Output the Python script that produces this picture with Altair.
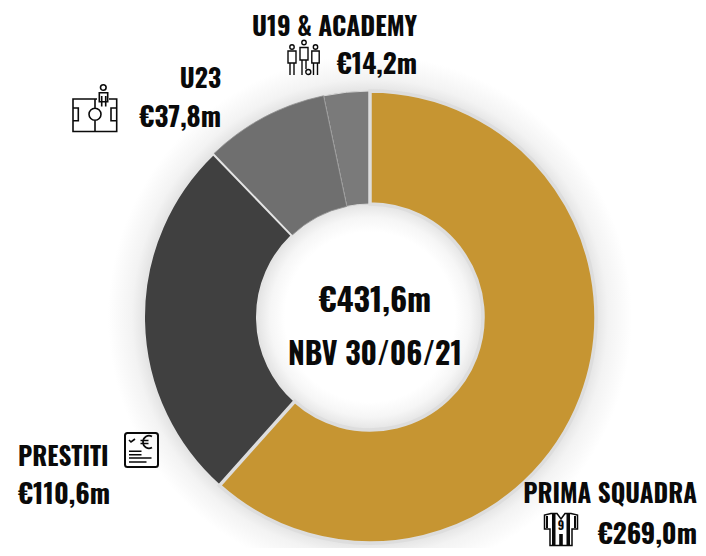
import altair as alt
import pandas as pd

# Slice shares as drawn in the picture (percent of the ring)
categories = ["PRIMA SQUADRA", "PRESTITI", "U23", "U19 & ACADEMY"]
shares = [61.6, 26.2, 8.9, 3.3]
colors = ["#C69532", "#404040", "#6F6F6F", "#7A7A7A"]
value_labels = ["€269,0m", "€110,6m", "€37,8m", "€14,2m"]
center_texts = ["€431,6m", "NBV 30/06/21"]

FONT = "Oswald"
OX, OY = 8, 8
CX, CY = 370 - OX, 317 - OY
R_OUT, R_IN = 226, 113


def single(t=""):
    return pd.DataFrame({"t": [t]})


def label(text, px, py, align, size=27):
    return alt.Chart(single(text)).mark_text(
        font=FONT, fontWeight="bold", fontSize=size, align=align, baseline="alphabetic", color="#0a0a0a"
    ).encode(text="t:N", x=alt.value(px - OX), y=alt.value(py - OY))


def rect(x0, y0, x1, y1):
    return f"M{x0} {y0}L{x1} {y0}L{x1} {y1}L{x0} {y1}Z"


def circle(cx, cy, r):
    return f"M{cx-r} {cy}A{r} {r} 0 1 1 {cx+r} {cy}A{r} {r} 0 1 1 {cx-r} {cy}Z"


def line(x0, y0, x1, y1):
    return f"M{x0} {y0}L{x1} {y1}"


def icon(path, px, py, width=1.5, filled=False, color="#0a0a0a"):
    if filled:
        mark = alt.Chart(single()).mark_point(shape=path, size=4, filled=True, fill=color, opacity=1, strokeWidth=0)
    else:
        mark = alt.Chart(single()).mark_point(shape=path, size=4, filled=False, stroke=color, strokeWidth=width, opacity=1)
    return mark.encode(x=alt.value(px - OX), y=alt.value(py - OY))


def person(cx, head_y, top, bottom, foot, half=4, leg=2):
    return (
        circle(cx, head_y, 2.2)
        + rect(cx - half, top, cx + half, bottom)
        + line(cx - leg, bottom, cx - leg, foot)
        + line(cx + leg, bottom, cx + leg, foot)
    )


players = (
    person(-12, -11, -7, 5, 17)
    + circle(0, -15.5, 2.2)
    + rect(-4, -10.5, 4, 2)
    + line(-2, 2, -2, 17)
    + line(2, 2, 2, 11)
    + circle(4.3, 14, 2.5)
    + person(11.5, -11, -7, 5, 17, half=3.7)
)

pitch = (
    "M2 -11L-22 -11L-22 21.5L21.7 21.5L21.7 -11L14 -11"
    + line(0, -11, 0, -2)
    + circle(0, 4.3, 6)
    + line(0, 10, 0, 21.5)
    + "M-22 -2L-16.7 -2L-16.7 10.7L-22 10.7"
    + "M21.7 -2L16 -2L16 10.7L21.7 10.7"
    + circle(8.3, -22.5, 2.8)
    + "M4.3 -7.5L4.3 -17.3L12.7 -17.3L12.7 -7.5"
    + line(6.7, -14, 6.7, -3.5)
    + line(10.7, -14, 10.7, -3.5)
    + line(4.3, -8.3, 12.7, -8.3)
)

doc_frame = (
    "M-14 -17L14 -17Q16.5 -17 16.5 -14.5L16.5 14.5Q16.5 17 14 17L-14 17Q-16.5 17 -16.5 14.5L-16.5 -14.5Q-16.5 -17 -14 -17Z"
)
doc_lines = (
    "M-12.5 -10L-10.5 -8L-6.5 -11"
    + line(-12.5, 1.3, 0, 1.3)
    + line(-12.5, 4.7, 0, 4.7)
    + line(-12.5, 8, 10, 8)
    + line(-12.5, 12, 5, 12)
)
doc_euro = "M10.5 -13.5C6.5 -16 1.5 -13 1.5 -8C1.5 -3 6.5 0 10.5 -2.5" + line(-1, -9.5, 7, -9.5) + line(-1, -6.5, 7, -6.5)

shirt_outline = "M-10 -15.5L-4 -15.5L0 -10L4 -15.5L10 -15.5L16.5 -14L16.5 0L11 0L11 16.5L-11 16.5L-11 0L-16.5 0L-16.5 -14Z"
shirt_stripes = (
    rect(-9, -15, -5.5, 16)
    + rect(5.5, -15, 9, 16)
    + rect(-15, -13, -13, -1)
    + rect(13, -13, 15, -1)
    + rect(-1.8, 5, 1.8, 16)
)

ring_df = pd.DataFrame(
    {
        "category": categories,
        "share": shares,
        "order": list(range(len(categories))),
        "color": colors,
        "edge": ["#DDDDDD", "#E4E4E4", "#909090", "#D8D8D8"],
        "edge_w": [3.5, 2.0, 0.8, 1.0],
    }
)

GLOW_R = 262
glow = alt.Chart(single()).mark_arc(
    innerRadius=0,
    outerRadius=GLOW_R,
    theta=0,
    theta2=6.2832,
    fill=alt.RadialGradient(
        gradient="radial",
        x1=0.5, y1=0.5, r1=0, x2=0.5, y2=0.5, r2=0.5,
        stops=[
            alt.GradientStop(offset=0, color="#FFFFFF"),
            alt.GradientStop(offset=85 / GLOW_R, color="#FFFFFF"),
            alt.GradientStop(offset=100 / GLOW_R, color="#F6F6F6"),
            alt.GradientStop(offset=113 / GLOW_R, color="#E4E4E4"),
            alt.GradientStop(offset=226 / GLOW_R, color="#E4E4E4"),
            alt.GradientStop(offset=238 / GLOW_R, color="#F3F3F3"),
            alt.GradientStop(offset=1, color="#FFFFFF"),
        ],
    ),
).encode(x=alt.value(CX), y=alt.value(CY))

base = alt.Chart(ring_df).transform_window(
    cum="sum(share)", sort=[alt.SortField("order")], frame=[None, 0]
).transform_calculate(
    end="datum.cum / 100 * 2 * PI", start="(datum.cum - datum.share) / 100 * 2 * PI"
)

ring = base.mark_arc(innerRadius=R_IN, outerRadius=R_OUT).encode(
    theta=alt.Theta("start:Q", scale=None),
    theta2=alt.Theta2("end:Q"),
    x=alt.value(CX),
    y=alt.value(CY),
    fill=alt.Fill("color:N", scale=None),
    stroke=alt.Stroke("edge:N", scale=None),
    strokeWidth=alt.StrokeWidth("edge_w:Q", scale=None),
    order=alt.Order("order:Q", sort="descending"),
)

layers = [
    glow,
    ring,
    label(center_texts[0], 375, 312, "center", 32),
    label(center_texts[1], 375, 365, "center", 30),
    label("U19 & ACADEMY", 417, 36, "right", 25.5),
    label(value_labels[3], 417, 74, "right"),
    label("U23", 221, 88, "right", 25.5),
    label(value_labels[2], 221, 127, "right"),
    label("PRESTITI", 18, 466, "left", 25),
    label(value_labels[1], 18, 504, "left"),
    label("PRIMA SQUADRA", 697, 503, "right", 25),
    label(value_labels[0], 697, 544, "right"),
    icon(players, 304, 58, 1.4),
    icon(pitch, 95, 110, 1.6),
    icon(doc_frame, 141.5, 450, 2),
    icon(doc_lines, 141.5, 450, 1.6),
    icon(doc_euro, 141.5, 450, 1.7),
    icon(shirt_stripes, 561, 529, filled=True),
    icon(shirt_outline, 561, 529, 1.5),
    alt.Chart(single("9")).mark_text(
        font=FONT, fontWeight="bold", fontSize=12, align="center", baseline="middle", color="#0a0a0a"
    ).encode(text="t:N", x=alt.value(561 - OX), y=alt.value(526 - OY)),
]

chart = (
    alt.layer(*layers)
    .properties(width=690, height=540, padding=0, autosize=alt.AutoSizeParams(type="none"), background="white")
    .configure_view(strokeWidth=0)
)

chart.save("out.html", embed_options={"renderer": "svg", "actions": False})
